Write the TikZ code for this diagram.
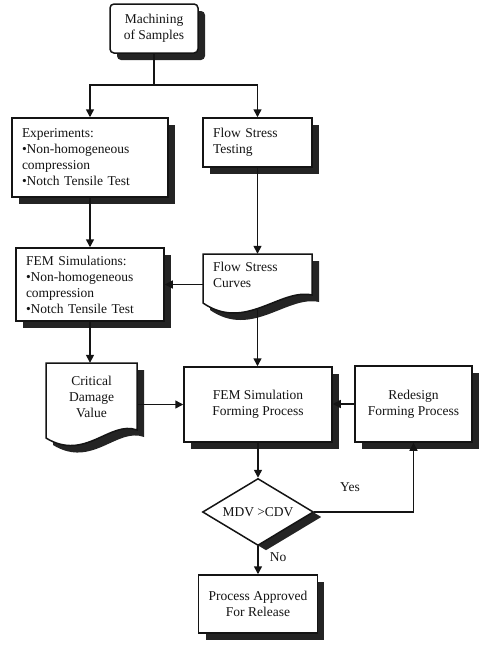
\documentclass[tikz,border=0pt]{standalone}
\usepackage{fontspec}
\setmainfont{Liberation Serif}
\usetikzlibrary{arrows.meta,shapes.geometric,shadows}
\colorlet{ink}{black!92}
\colorlet{shadowgray}{black!86}
\tikzset{
  txt/.style={font=\fontsize{13.5}{16}\selectfont, text=ink},
  base/.style={txt, line width=1.5pt, draw=ink},
  shadowed/.style={drop shadow={shadow xshift=7pt, shadow yshift=-7pt, fill=shadowgray, opacity=1}},
  box/.style={base, rectangle, fill=white, shadowed, inner ysep=2pt, inner xsep=10pt},
  rbox/.style={box, rounded corners=4pt},
  holder/.style={txt, rectangle, inner ysep=2pt, inner xsep=10pt},
  decision/.style={base, diamond, aspect=1.66, fill=white, inner sep=0pt,
    drop shadow={shadow xshift=8pt, shadow yshift=-5pt, fill=shadowgray, opacity=1}},
  sheet/.style={line width=1.5pt, draw=ink, fill=white, shadowed},
  arr/.style={line width=1.5pt, draw=ink, -{Triangle[length=8pt,width=8pt]}},
  link/.style={line width=1.5pt, draw=ink},
  tag/.style={txt, inner sep=0pt}
}
\begin{document}
\begin{tikzpicture}[x=1pt,y=-1pt]
\useasboundingbox (0,0) rectangle (482,648);

% shapes
\node[rbox, minimum width=88pt, minimum height=49pt, align=center] (mach) at (154,28.5) {Machining\\of Samples};
\node[box, minimum width=156pt, minimum height=79pt, text width=136pt, align=left] (exp) at (90,157.5)
  {Experiments:\\\textbullet Non-homogeneous\\compression\\\textbullet Notch Tensile Test};
\node[box, minimum width=109pt, minimum height=49pt, text width=89pt, align=left] (fst) at (257.5,142.5)
  {Flow Stress\\Testing};
\node[box, minimum width=148pt, minimum height=73pt, text width=128pt, align=left] (fems) at (90,284.5)
  {FEM Simulations:\\\textbullet Non-homogeneous\\compression\\\textbullet Notch Tensile Test};
% document sheets with a wavy lower edge
\draw[sheet] (203,254) -- (312,254) -- (312,295)
  .. controls (280,288) and (245,332) .. (203,303) -- cycle;
\node[holder, minimum width=109pt, minimum height=41pt, text width=89pt, align=left] (fsc) at (257.5,274.5)
  {Flow Stress\\Curves};
\coordinate (fscfoot) at (257.5,308.5);
\draw[sheet] (46,363) -- (137,363) -- (137,430)
  .. controls (110,420) and (85,462) .. (46,438) -- cycle;
\node[holder, minimum width=91pt, minimum height=67pt, align=center] (cdv) at (91.5,396.5)
  {Critical\\Damage\\Value};
\node[box, minimum width=148pt, minimum height=75pt, align=center] (femf) at (258,404.5)
  {FEM Simulation\\Forming Process};
\node[box, minimum width=117pt, minimum height=76pt, align=center] (red) at (413.5,404)
  {Redesign\\Forming Process};
\node[decision, minimum width=111pt, minimum height=67pt] (dia) at (258,512) {MDV >CDV};
\node[box, minimum width=114pt, minimum height=58pt, align=center] (app) at (258,604)
  {Process Approved\\For Release};

% connectors
\coordinate (split) at (154,85);
\draw[link] (mach.south) -- (split);
\draw[arr] (split) -| (exp.north);
\draw[arr] (split) -| (fst.north);
\draw[arr] (exp.south) -- (fems.north);
\draw[arr] (fst.south) -- (fst.south |- fsc.north);
\draw[arr] (fems.east -| fsc.west) -- (fems.east);
\draw[arr] (fems.south) -- (fems.south |- cdv.north);
\draw[arr] (fscfoot) -- (fscfoot |- femf.north);
\draw[arr] (femf.west -| cdv.east) -- (femf.west);
\draw[arr] (red.west) -- (red.west -| femf.east);
\draw[arr] (femf.south) -- (dia.north);
\draw[arr] (dia.east) -| (red.south);
\draw[arr] (dia.south) -- (app.north);

% branch labels
\node[tag] (yes) at (350,487) {Yes};
\node[tag] (no) at (278,557) {No};
\end{tikzpicture}
\end{document}
